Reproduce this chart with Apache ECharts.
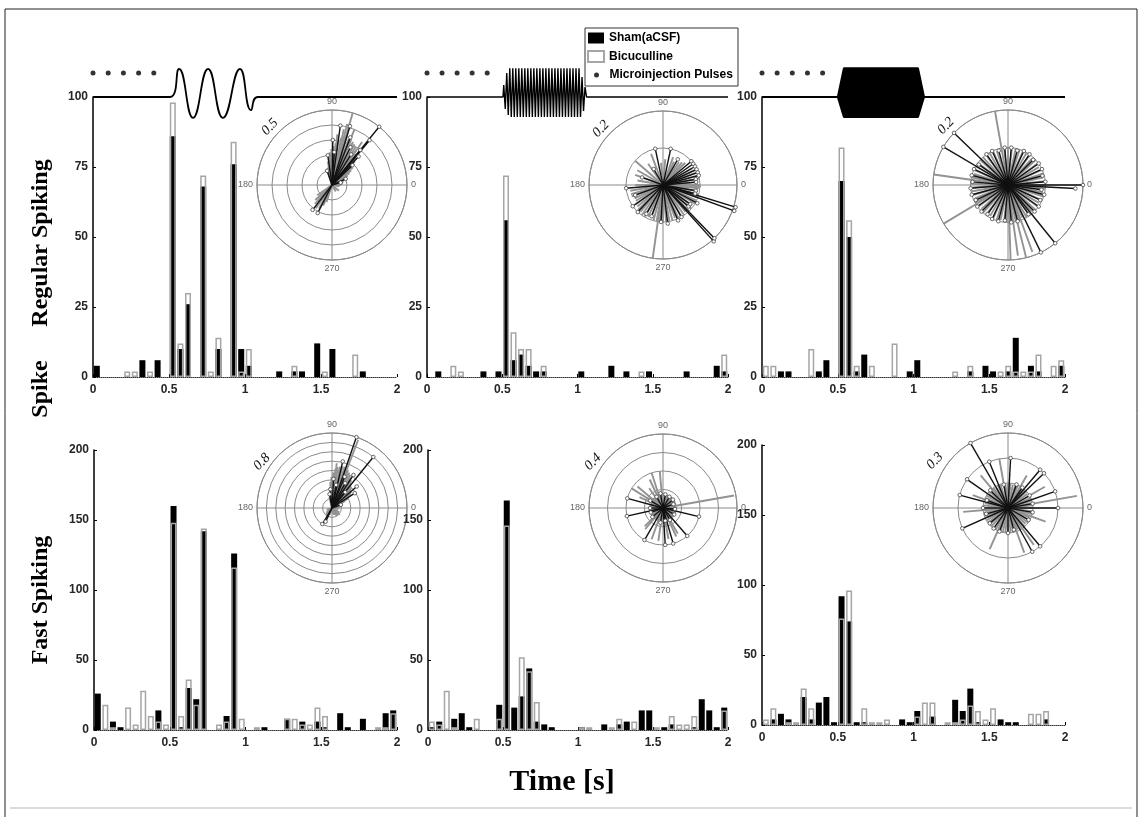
<!DOCTYPE html>
<html><head><meta charset="utf-8">
<script src="https://cdn.jsdelivr.net/npm/echarts@6/dist/echarts.min.js"></script>
<style>html,body{margin:0;padding:0;background:#fff}#c{width:1143px;height:817px}</style>
</head><body><div id="c"></div>
<script>
// ---------- DATA ----------
const BIN_CENTERS = [0.025,0.075,0.125,0.175,0.225,0.275,0.325,0.375,0.425,0.475,0.525,0.575,0.625,0.675,0.725,0.775,0.825,0.875,0.925,0.975,1.025,1.075,1.125,1.175,1.225,1.275,1.325,1.375,1.425,1.475,1.525,1.575,1.625,1.675,1.725,1.775,1.825,1.875,1.925,1.975];
const X_TICKS = [0, 0.5, 1, 1.5, 2];
const Y_TICKS_RS = [0, 25, 50, 75, 100];
const Y_TICKS_FS = [0, 50, 100, 150, 200];

// Regular spiking
const RS1_SHAM = [4,0,0,0,0,0,6,0,6,0, 86,10,26,0,68,0,10,0,76,10, 4,0,0,0,2,0,2,2,0,12, 0,10,0,0,0,2,0,0,0,0];
const RS1_BIC  = [0,0,0,0,2,2,0,2,0,0, 98,12,30,0,72,2,14,0,84,2, 10,0,0,0,0,0,4,0,0,0, 2,0,0,0,8,0,0,0,0,0];
const RS2_SHAM = [0,2,0,0,0,0,0,2,0,2, 56,6,8,4,2,2,0,0,0,0, 2,0,0,0,4,0,2,0,0,2, 0,0,0,0,2,0,0,0,4,2];
const RS2_BIC  = [0,0,0,4,2,0,0,0,0,0, 72,16,10,10,0,4,0,0,0,0, 0,0,0,0,0,0,0,0,2,0, 0,0,0,0,0,0,0,0,0,8];
const RS3_SHAM = [0,0,2,2,0,0,0,2,6,0, 70,50,2,8,0,0,0,0,0,2, 6,0,0,0,0,0,0,2,0,4, 2,0,2,14,0,4,2,0,0,4];
const RS3_BIC  = [4,4,0,0,0,0,10,0,0,0, 82,56,4,0,4,0,0,12,0,0, 0,0,0,0,0,2,0,4,0,0, 0,2,4,2,2,2,8,0,4,6];
// Fast spiking
const FS1_SHAM = [26,0,6,2,0,0,0,0,14,0, 160,2,30,22,142,0,0,10,126,0, 0,0,2,0,0,8,0,6,0,6, 2,0,12,2,0,8,0,0,12,14];
const FS1_BIC  = [0,18,2,0,16,4,28,10,6,4, 148,10,36,18,144,0,4,6,116,8, 0,2,0,0,0,8,8,4,4,16, 10,0,0,0,0,0,0,2,2,12];
const FS2_SHAM = [2,6,0,8,12,2,0,0,0,18, 164,16,24,44,6,4,2,0,0,0, 2,0,0,4,0,4,6,0,14,14, 0,2,4,0,0,2,22,14,2,16];
const FS2_BIC  = [6,4,28,2,0,0,8,0,0,8, 146,0,52,42,20,0,0,0,0,0, 2,2,0,0,2,8,0,6,0,0, 2,0,10,4,4,10,0,0,0,14];
const FS3_SHAM = [0,4,8,4,0,20,4,16,20,2, 92,74,2,2,0,0,0,0,4,2, 10,0,6,0,0,18,10,26,2,0, 0,4,2,2,0,0,0,4,0,0];
const FS3_BIC  = [4,12,0,2,2,26,12,0,0,0, 76,96,0,12,2,2,4,0,0,0, 6,16,16,0,2,2,4,14,10,4, 12,0,0,0,0,8,8,10,0,0];

// Phase (compass) data: [resultant length, angle deg]
const RS1_PH_SHAM = [[0.50,51],[0.39,50],[0.30,51],[0.26,47],[0.40,82],[0.41,73],[0.30,89],[0.20,98],[0.10,109],[0.21,232],[0.21,243],[0.24,58],[0.19,44],[0.28,64],[0.34,69],[0.10,24],[0.06,15],[0.22,86]];
const RS1_PH_BIC = [[0.50,74],[0.42,76],[0.40,68],[0.38,78],[0.35,55],[0.34,84],[0.05,350],[0.06,0],[0.07,8],[0.08,16],[0.09,22],[0.10,26],[0.12,30],[0.14,34],[0.16,37],[0.18,40],[0.20,43],[0.22,46],[0.24,49],[0.26,52],[0.28,55],[0.30,58],[0.31,61],[0.32,64],[0.33,67],[0.33,70],[0.34,73],[0.33,76],[0.32,79],[0.30,82],[0.28,85],[0.26,88],[0.24,91],[0.22,94],[0.19,97],[0.16,100],[0.12,104],[0.09,108],[0.12,215],[0.15,222],[0.17,228],[0.19,235],[0.18,241],[0.15,247],[0.12,252],[0.05,300],[0.06,320]];
const RS2_PH_SHAM = [[0.10,102],[0.10,78],[0.10,185],[0.10,215],[0.10,227],[0.10,267],[0.105,277],[0.104,293],[0.105,332],[0.205,340],[0.205,343],[0.205,312],[0.20,314],[0.10,40],[0.10,35],[0.10,30],[0.10,25],[0.10,20],[0.10,15],[0.09,10],[0.09,5],[0.09,350],[0.09,320],[0.10,300],[0.09,250],[0.08,200],[0.06,160],[0.08,60],[0.05,120],[0.09,345],[0.09,325],[0.09,240]];
const RS2_PH_BIC = [[0.20,262],[0.10,139],[0.09,111],[0.103,358],[0.08,150],[0.07,170],[0.09,190],[0.09,196],[0.09,200],[0.085,205],[0.085,210],[0.09,215],[0.09,220],[0.095,225],[0.095,230],[0.10,235],[0.10,240],[0.095,245],[0.095,250],[0.10,255],[0.10,260],[0.10,265],[0.10,270],[0.10,275],[0.10,280],[0.10,285],[0.095,290],[0.10,295],[0.10,300],[0.10,305],[0.095,310],[0.10,315],[0.10,320],[0.095,325],[0.10,330],[0.10,335],[0.10,340],[0.10,345],[0.095,350],[0.10,355],[0.10,0],[0.095,5],[0.10,10],[0.10,15],[0.095,20],[0.10,25],[0.09,30],[0.085,45],[0.08,50],[0.075,55],[0.07,65],[0.08,70],[0.07,85],[0.06,95],[0.07,125],[0.08,160],[0.075,180]];
const RS3_PH_SHAM = [[0.20,136],[0.20,149.5],[0.20,309],[0.20,296],[0.20,0],[0.18,357],[0.10,5],[0.095,15],[0.10,25],[0.10,35],[0.095,45],[0.10,55],[0.10,65],[0.095,75],[0.10,85],[0.10,95],[0.095,105],[0.10,115],[0.10,125],[0.095,145],[0.10,155],[0.10,165],[0.095,175],[0.10,185],[0.10,195],[0.095,205],[0.10,215],[0.10,225],[0.095,235],[0.10,245],[0.10,255],[0.095,265],[0.10,275],[0.10,285],[0.095,305],[0.10,315],[0.10,325],[0.095,335],[0.10,345],[0.09,352]];
const RS3_PH_BIC = [[0.20,100],[0.20,172],[0.20,211],[0.20,284],[0.19,278],[0.19,290],[0.20,272],[0.10,0],[0.10,6],[0.095,12],[0.10,18],[0.10,24],[0.095,30],[0.10,36],[0.10,42],[0.095,48],[0.10,54],[0.10,60],[0.095,66],[0.10,72],[0.10,78],[0.095,84],[0.10,90],[0.10,96],[0.095,108],[0.10,114],[0.10,120],[0.095,126],[0.10,132],[0.10,138],[0.095,144],[0.10,150],[0.10,156],[0.095,162],[0.10,168],[0.10,178],[0.095,184],[0.10,190],[0.10,196],[0.095,202],[0.10,208],[0.10,216],[0.095,222],[0.10,228],[0.10,234],[0.095,240],[0.10,246],[0.10,252],[0.095,258],[0.10,264],[0.10,268],[0.095,276],[0.10,282],[0.10,288],[0.095,294],[0.10,300],[0.10,306],[0.095,312],[0.10,318],[0.10,324],[0.095,330],[0.10,336],[0.10,342],[0.095,348],[0.10,354]];
const FS1_PH_SHAM = [[0.80,71],[0.70,51],[0.42,57],[0.51,77],[0.31,87],[0.35,41],[0.29,33],[0.20,239],[0.16,245],[0.30,62],[0.36,68],[0.25,80],[0.20,95],[0.22,50],[0.10,20],[0.15,100]];
const FS1_PH_BIC = [[0.78,69],[0.48,84],[0.16,28],[0.20,31],[0.22,34],[0.25,37],[0.27,40],[0.28,43],[0.30,46],[0.31,49],[0.33,52],[0.36,55],[0.38,58],[0.40,61],[0.42,64],[0.44,67],[0.45,70],[0.46,73],[0.46,76],[0.45,79],[0.44,82],[0.42,85],[0.38,88],[0.33,91],[0.28,94],[0.22,97],[0.16,100],[0.12,104],[0.12,20],[0.10,14],[0.08,8],[0.08,0],[0.07,350],[0.10,300],[0.10,310],[0.11,320],[0.09,330],[0.08,290],[0.07,280],[0.08,250],[0.10,230],[0.08,220],[0.06,200]];
const FS2_PH_SHAM = [[0.20,165],[0.20,192.6],[0.20,240],[0.20,273.5],[0.20,286],[0.20,311],[0.20,346.6],[0.08,150],[0.07,200],[0.08,260],[0.07,330],[0.06,20],[0.07,60],[0.08,100],[0.07,120],[0.075,300],[0.065,355],[0.075,220],[0.07,40],[0.075,80],[0.07,180],[0.07,280]];
const FS2_PH_BIC = [[0.39,10],[0.20,95],[0.20,108],[0.20,148],[0.18,140],[0.17,115],[0.18,250],[0.18,262],[0.17,280],[0.17,295],[0.15,230],[0.16,300],[0.14,225],[0.13,125],[0.14,155],[0.075,0],[0.07,5],[0.075,10],[0.07,15],[0.075,20],[0.07,25],[0.075,30],[0.07,35],[0.075,40],[0.07,45],[0.075,50],[0.07,55],[0.075,60],[0.07,65],[0.075,70],[0.07,75],[0.075,80],[0.07,85],[0.075,90],[0.07,100],[0.075,105],[0.07,110],[0.075,120],[0.07,130],[0.075,135],[0.07,145],[0.075,150],[0.07,160],[0.075,165],[0.07,170],[0.075,175],[0.07,180],[0.075,185],[0.07,190],[0.075,195],[0.07,200],[0.075,205],[0.07,210],[0.075,215],[0.07,220],[0.075,235],[0.07,240],[0.075,245],[0.07,255],[0.075,265],[0.07,270],[0.075,275],[0.07,285],[0.075,290],[0.07,305],[0.075,310],[0.07,315],[0.075,320],[0.07,325],[0.075,330],[0.07,335],[0.075,340],[0.07,345],[0.075,350],[0.07,355]];
const FS3_PH_SHAM = [[0.30,120],[0.20,112],[0.20,87],[0.20,50],[0.20,44],[0.20,19.4],[0.20,0],[0.20,145],[0.20,165],[0.20,204],[0.20,310],[0.20,299],[0.10,30],[0.10,70],[0.095,100],[0.10,135],[0.10,180],[0.095,220],[0.10,250],[0.10,270],[0.095,330],[0.10,350],[0.09,160],[0.09,285],[0.10,10],[0.10,55],[0.09,195],[0.10,235]];
const FS3_PH_BIC = [[0.28,10],[0.18,246],[0.20,100],[0.17,130],[0.15,160],[0.18,185],[0.19,290],[0.18,305],[0.16,340],[0.17,30],[0.15,60],[0.10,0],[0.10,6],[0.095,12],[0.10,18],[0.10,24],[0.095,36],[0.10,42],[0.10,48],[0.095,54],[0.10,66],[0.10,72],[0.095,78],[0.10,84],[0.10,90],[0.095,96],[0.10,108],[0.10,114],[0.095,120],[0.10,126],[0.10,138],[0.095,144],[0.10,150],[0.10,156],[0.095,168],[0.10,174],[0.10,180],[0.095,186],[0.10,192],[0.10,198],[0.095,204],[0.10,210],[0.10,216],[0.095,222],[0.10,228],[0.10,240],[0.095,252],[0.10,258],[0.10,264],[0.095,270],[0.10,276],[0.10,282],[0.095,294],[0.10,300],[0.10,312],[0.095,318],[0.10,324],[0.10,330],[0.095,336],[0.10,346],[0.10,352]];
const PH_MAX = [0.5, 0.2, 0.2, 0.8, 0.4, 0.3];
const PH_LABELS = ['0.5', '0.2', '0.2', '0.8', '0.4', '0.3'];
const ANGLE_TICKS = [0, 90, 180, 270];

// Stimulus schematic: [time s, level]
const PULSE_T = [0, 0.1, 0.2, 0.3, 0.4];
const PULSE_LEVEL = 0.6;
const THETA_WAVE = [[0,0],[0.507,0],[0.566,0.7],[0.658,-0.52],[0.757,0.7],[0.855,-0.52],[0.967,0.7],[1.04,-0.33],[1.085,0],[2,0]];
const GAMMA_T = [0,0.505,0.51,0.52,0.53,0.54,0.55,0.56,0.57,0.58,0.59,0.60,0.61,0.62,0.63,0.64,0.65,0.66,0.67,0.68,0.69,0.70,0.71,0.72,0.73,0.74,0.75,0.76,0.77,0.78,0.79,0.80,0.81,0.82,0.83,0.84,0.85,0.86,0.87,0.88,0.89,0.90,0.91,0.92,0.93,0.94,0.95,0.96,0.97,0.98,0.99,1.00,1.01,1.02,1.03,1.04,1.05,1.06,2];
const GAMMA_V = [0,0,0.3,-0.3,0.6,-0.45,0.72,-0.5,0.72,-0.5,0.72,-0.5,0.72,-0.5,0.72,-0.5,0.72,-0.5,0.72,-0.5,0.72,-0.5,0.72,-0.5,0.72,-0.5,0.72,-0.5,0.72,-0.5,0.72,-0.5,0.72,-0.5,0.72,-0.5,0.72,-0.5,0.72,-0.5,0.72,-0.5,0.72,-0.5,0.72,-0.5,0.72,-0.5,0.72,-0.5,0.72,-0.5,0.72,-0.5,0.5,-0.35,0.25,0,0];
const HGAMMA_TOP = [[0,0],[0.50,0],[0.54,0.72],[1.03,0.72],[1.07,0],[2,0]];
const HGAMMA_BOT = [[0,0],[0.50,0],[0.54,-0.5],[1.03,-0.5],[1.07,0],[2,0]];

// ---------- LAYOUT ----------
const FONT_SANS = '"Liberation Sans", Arial, sans-serif';
const FONT_SERIF = '"Liberation Serif", "Times New Roman", serif';
const panels = [
  {g:{left:93, top:97, width:304, height:280}, yt:Y_TICKS_RS, sham:RS1_SHAM, bic:RS1_BIC},
  {g:{left:427,top:97, width:301, height:280}, yt:Y_TICKS_RS, sham:RS2_SHAM, bic:RS2_BIC},
  {g:{left:762,top:97, width:303, height:280}, yt:Y_TICKS_RS, sham:RS3_SHAM, bic:RS3_BIC},
  {g:{left:94, top:450,width:303, height:280}, yt:Y_TICKS_FS, sham:FS1_SHAM, bic:FS1_BIC},
  {g:{left:428,top:450,width:300, height:280}, yt:Y_TICKS_FS, sham:FS2_SHAM, bic:FS2_BIC},
  {g:{left:762,top:445,width:303, height:280}, yt:Y_TICKS_FS, sham:FS3_SHAM, bic:FS3_BIC}
];
const polars = [
  {c:[332,185], r:75, sham:RS1_PH_SHAM, bic:RS1_PH_BIC, lab:[270,127]},
  {c:[663,185], r:74, sham:RS2_PH_SHAM, bic:RS2_PH_BIC, lab:[601,129]},
  {c:[1008,185],r:75, sham:RS3_PH_SHAM, bic:RS3_PH_BIC, lab:[946,126]},
  {c:[332,508], r:75, sham:FS1_PH_SHAM, bic:FS1_PH_BIC, lab:[262,462]},
  {c:[663,508], r:74, sham:FS2_PH_SHAM, bic:FS2_PH_BIC, lab:[593,462]},
  {c:[1008,508],r:75, sham:FS3_PH_SHAM, bic:FS3_PH_BIC, lab:[935,461]}
];

const grid = [], xAxis = [], yAxis = [], series = [];
const tickLabel = {fontFamily: FONT_SANS, fontWeight: 'bold', fontSize: 12, color: '#262626'};
const toPairs = arr => arr.map((v, i) => v > 0 ? [BIN_CENTERS[i], v] : null).filter(d => d);

panels.forEach((p, i) => {
  grid.push(Object.assign({}, p.g));
  xAxis.push({gridIndex:i, type:'value', min:X_TICKS[0], max:X_TICKS[X_TICKS.length-1], interval:X_TICKS[1]-X_TICKS[0],
    axisLine:{show:true, onZero:false, lineStyle:{color:'#333', width:1, type:'dotted'}},
    axisTick:{show:true, inside:true, length:3, lineStyle:{color:'#000'}},
    axisLabel:Object.assign({margin:7}, tickLabel), splitLine:{show:false}});
  yAxis.push({gridIndex:i, type:'value', min:p.yt[0], max:p.yt[p.yt.length-1], interval:p.yt[1]-p.yt[0],
    axisLine:{show:true, lineStyle:{color:'#000', width:1.5}},
    axisTick:{show:true, inside:true, length:3, lineStyle:{color:'#000'}},
    axisLabel:Object.assign({margin:5}, tickLabel), splitLine:{show:false}});
  series.push({type:'bar', name:'Sham(aCSF)', xAxisIndex:i, yAxisIndex:i, barWidth:6, barGap:'-100%',
    data:toPairs(p.sham), itemStyle:{color:'#000'}, z:2});
  series.push({type:'bar', name:'Bicuculline', xAxisIndex:i, yAxisIndex:i, barWidth:6, barGap:'-100%',
    data:toPairs(p.bic), itemStyle:{color:'rgba(255,255,255,0)', borderColor:'#a6a6a6', borderWidth:1.5}, z:3});
});

// stimulus grids (over the top row)
const waves = [
  [{data:THETA_WAVE, smooth:0.5}],
  [{data:GAMMA_T.map((t,k)=>[t, GAMMA_V[k]]), lineWidth:1.4}],
  [{data:HGAMMA_TOP, area:true}, {data:HGAMMA_BOT, area:true}]
];
[0,1,2].forEach(k => {
  const gi = 6 + k, g = panels[k].g;
  grid.push({left:g.left, top:57, width:g.width, height:80});
  xAxis.push({gridIndex:gi, type:'value', min:0, max:2, show:false});
  yAxis.push({gridIndex:gi, type:'value', min:-1, max:1, show:false});
  waves[k].forEach(w => {
    series.push({type:'line', xAxisIndex:gi, yAxisIndex:gi, data:w.data, smooth:w.smooth || false,
      showSymbol:false, symbol:'none', clip:false, z:4,
      lineStyle:{color:'#000', width:w.lineWidth || 1.8},
      areaStyle: w.area ? {color:'#000', opacity:1} : undefined});
  });
  series.push({type:'scatter', name:'Microinjection Pulses', xAxisIndex:gi, yAxisIndex:gi,
    data:PULSE_T.map(t => [t, PULSE_LEVEL]), symbol:'circle', symbolSize:5, clip:false,
    itemStyle:{color:'#000'}, z:4});
});

// polar insets
const polar = [], angleAxis = [], radiusAxis = [];
function spoke(color, width, mk) {
  return function (params, api) {
    const r = api.value(0), a = api.value(1);
    const e = api.coord([r, a]);
    const c = api.coord([0, a]);
    const children = [{type:'line', shape:{x1:c[0], y1:c[1], x2:e[0], y2:e[1]}, style:{stroke:color, lineWidth:width}}];
    if (mk) children.push({type:'circle', shape:{cx:e[0], cy:e[1], r:1.8}, style:{fill:'#fff', stroke:mk, lineWidth:0.8}});
    return {type:'group', children};
  };
}
polars.forEach((p, i) => {
  polar.push({center:p.c, radius:p.r});
  angleAxis.push({polarIndex:i, type:'value', min:0, max:360, interval:90, startAngle:0, clockwise:false,
    axisLine:{show:true, lineStyle:{color:'#8a8a8a', width:1}},
    axisTick:{show:false},
    axisLabel:{show:true, margin:4, fontSize:9, color:'#666', fontFamily:FONT_SANS,
      formatter: v => ANGLE_TICKS.indexOf(v) >= 0 ? String(v) : ''},
    splitLine:{show:true, lineStyle:{color:'#8a8a8a', width:1}}});
  radiusAxis.push({polarIndex:i, type:'value', min:0, max:PH_MAX[i], interval:0.1,
    axisLine:{show:false}, axisTick:{show:false}, axisLabel:{show:false},
    splitLine:{show:true, lineStyle:{color:'#8a8a8a', width:1}}});
  series.push({type:'custom', coordinateSystem:'polar', polarIndex:i, encode:{radius:0, angle:1},
    data:p.bic, renderItem:spoke('#939393', 1.9, null), z:5, silent:true});
  series.push({type:'custom', coordinateSystem:'polar', polarIndex:i, encode:{radius:0, angle:1},
    data:p.sham, renderItem:spoke('#111', 1.4, '#444'), z:6, silent:true});
});

// texts
const graphic = [
  {type:'rect', shape:{x:5, y:9, width:1132, height:830}, style:{fill:'none', stroke:'#222', lineWidth:1}, z:0, silent:true},
  {type:'line', shape:{x1:10, y1:808, x2:1132, y2:808}, style:{stroke:'#cfcfcf', lineWidth:1.5}, z:0},
  {type:'rect', shape:{x:585, y:28, width:153, height:58}, style:{fill:'#fff', stroke:'#333', lineWidth:1}, z:3},
  {type:'text', x:41, y:243, rotation:Math.PI/2, style:{text:'Regular Spiking', font:'bold 24px ' + FONT_SERIF, fill:'#000', align:'center', verticalAlign:'middle'}},
  {type:'text', x:41, y:389, rotation:Math.PI/2, style:{text:'Spike', font:'bold 24px ' + FONT_SERIF, fill:'#000', align:'center', verticalAlign:'middle'}},
  {type:'text', x:41, y:600, rotation:Math.PI/2, style:{text:'Fast Spiking', font:'bold 24px ' + FONT_SERIF, fill:'#000', align:'center', verticalAlign:'middle'}},
  {type:'text', x:562, y:782, style:{text:'Time [s]', font:'bold 30px ' + FONT_SERIF, fill:'#000', align:'center', verticalAlign:'middle'}}
];
polars.forEach((p, i) => {
  graphic.push({type:'text', x:p.lab[0], y:p.lab[1], rotation:0.8, z:10,
    style:{text:PH_LABELS[i], font:'italic 14px ' + FONT_SERIF, fill:'#111', align:'center', verticalAlign:'middle'}});
});

const chart = echarts.init(document.getElementById('c'), null, {renderer:'canvas'});
chart.setOption({
  animation:false,
  backgroundColor:'#fff',
  grid, xAxis, yAxis, polar, angleAxis, radiusAxis, series, graphic,
  legend:[
    {data:['Sham(aCSF)', 'Bicuculline'], left:587, top:32, orient:'vertical', icon:'rect',
     itemWidth:16, itemHeight:11, itemGap:6, z:10, selectedMode:false,
     textStyle:{fontFamily:FONT_SANS, fontWeight:'bold', fontSize:12, color:'#000'}, padding:0},
    {data:['Microinjection Pulses'], left:594, top:69, orient:'vertical', icon:'circle',
     itemWidth:16, itemHeight:5, z:10, selectedMode:false,
     textStyle:{fontFamily:FONT_SANS, fontWeight:'bold', fontSize:12, color:'#000'}, padding:0}
  ]
});
</script>
</body></html>
